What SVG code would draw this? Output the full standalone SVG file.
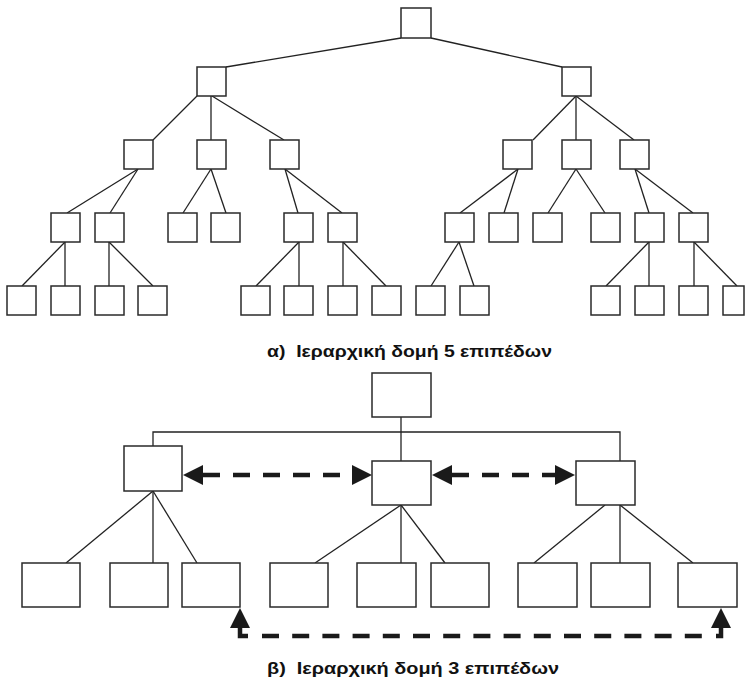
<svg xmlns="http://www.w3.org/2000/svg" width="745" height="681" viewBox="0 0 745 681">
<style>
.n rect{fill:#fff;stroke:#2a2a2a;stroke-width:1.5}
.c line,.c polyline{stroke:#222;stroke-width:1.3;fill:none}
.d line,.d polyline{stroke:#1a1a1a;stroke-width:4.5;fill:none}
.d .dash{stroke-dasharray:17 13}
.d polygon{fill:#1a1a1a}
.t{font-family:"Liberation Sans",Arial,sans-serif;font-weight:bold;font-size:17px;fill:#111;white-space:pre}
</style>
<rect width="745" height="681" fill="#fff"/>
<!-- Top tree connectors -->
<g id="connectors-a" class="c">
<line x1="401" y1="38" x2="226" y2="67"/>
<line x1="431" y1="38" x2="562" y2="67"/>
<line x1="197" y1="96" x2="153" y2="140"/>
<line x1="211" y1="96" x2="211" y2="140"/>
<line x1="212" y1="96" x2="284" y2="140"/>
<line x1="576" y1="96" x2="533" y2="140"/>
<line x1="576" y1="96" x2="576" y2="140"/>
<line x1="576" y1="96" x2="634" y2="140"/>
<line x1="138" y1="169" x2="67" y2="213"/>
<line x1="138" y1="169" x2="110" y2="213"/>
<line x1="211" y1="169" x2="183" y2="213"/>
<line x1="211" y1="169" x2="226" y2="213"/>
<line x1="285" y1="169" x2="298" y2="213"/>
<line x1="285" y1="169" x2="342" y2="213"/>
<line x1="518" y1="169" x2="460" y2="213"/>
<line x1="518" y1="169" x2="504" y2="213"/>
<line x1="576" y1="169" x2="548" y2="213"/>
<line x1="576" y1="169" x2="605" y2="213"/>
<line x1="635" y1="169" x2="649" y2="213"/>
<line x1="635" y1="169" x2="693" y2="213"/>
<line x1="65" y1="242" x2="22" y2="286"/>
<line x1="65" y1="242" x2="65" y2="286"/>
<line x1="109" y1="242" x2="109" y2="286"/>
<line x1="109" y1="242" x2="153" y2="286"/>
<line x1="299" y1="242" x2="256" y2="286"/>
<line x1="299" y1="242" x2="299" y2="286"/>
<line x1="343" y1="242" x2="343" y2="286"/>
<line x1="343" y1="242" x2="386" y2="286"/>
<line x1="459" y1="242" x2="431" y2="286"/>
<line x1="459" y1="242" x2="474" y2="286"/>
<line x1="649" y1="242" x2="606" y2="286"/>
<line x1="649" y1="242" x2="649" y2="286"/>
<line x1="694" y1="242" x2="694" y2="286"/>
<line x1="694" y1="242" x2="737" y2="286"/>
</g>
<!-- Top tree nodes -->
<g id="a-root" class="n"><rect x="401" y="8" width="30" height="30"/></g>
<g id="a-l1-1" class="n"><rect x="197" y="67" width="29" height="29"/></g>
<g id="a-l1-2" class="n"><rect x="562" y="67" width="29" height="29"/></g>
<g id="a-l2-1" class="n"><rect x="124" y="140" width="29" height="29"/></g>
<g id="a-l2-2" class="n"><rect x="197" y="140" width="29" height="29"/></g>
<g id="a-l2-3" class="n"><rect x="270" y="140" width="29" height="29"/></g>
<g id="a-l2-4" class="n"><rect x="503" y="140" width="29" height="29"/></g>
<g id="a-l2-5" class="n"><rect x="562" y="140" width="29" height="29"/></g>
<g id="a-l2-6" class="n"><rect x="620" y="140" width="29" height="29"/></g>
<g id="a-l3-1" class="n"><rect x="51" y="213" width="29" height="29"/></g>
<g id="a-l3-2" class="n"><rect x="95" y="213" width="29" height="29"/></g>
<g id="a-l3-3" class="n"><rect x="168" y="213" width="29" height="29"/></g>
<g id="a-l3-4" class="n"><rect x="211" y="213" width="29" height="29"/></g>
<g id="a-l3-5" class="n"><rect x="284" y="213" width="29" height="29"/></g>
<g id="a-l3-6" class="n"><rect x="328" y="213" width="29" height="29"/></g>
<g id="a-l3-7" class="n"><rect x="445" y="213" width="29" height="29"/></g>
<g id="a-l3-8" class="n"><rect x="489" y="213" width="29" height="29"/></g>
<g id="a-l3-9" class="n"><rect x="533" y="213" width="29" height="29"/></g>
<g id="a-l3-10" class="n"><rect x="591" y="213" width="29" height="29"/></g>
<g id="a-l3-11" class="n"><rect x="635" y="213" width="29" height="29"/></g>
<g id="a-l3-12" class="n"><rect x="679" y="213" width="29" height="29"/></g>
<g id="a-l4-1" class="n"><rect x="7" y="286" width="29" height="29"/></g>
<g id="a-l4-2" class="n"><rect x="51" y="286" width="29" height="29"/></g>
<g id="a-l4-3" class="n"><rect x="95" y="286" width="29" height="29"/></g>
<g id="a-l4-4" class="n"><rect x="138" y="286" width="29" height="29"/></g>
<g id="a-l4-5" class="n"><rect x="241" y="286" width="29" height="29"/></g>
<g id="a-l4-6" class="n"><rect x="284" y="286" width="29" height="29"/></g>
<g id="a-l4-7" class="n"><rect x="328" y="286" width="29" height="29"/></g>
<g id="a-l4-8" class="n"><rect x="372" y="286" width="29" height="29"/></g>
<g id="a-l4-9" class="n"><rect x="416" y="286" width="29" height="29"/></g>
<g id="a-l4-10" class="n"><rect x="460" y="286" width="29" height="29"/></g>
<g id="a-l4-11" class="n"><rect x="591" y="286" width="29" height="29"/></g>
<g id="a-l4-12" class="n"><rect x="635" y="286" width="29" height="29"/></g>
<g id="a-l4-13" class="n"><rect x="679" y="286" width="29" height="29"/></g>
<g id="a-l4-14" class="n"><rect x="723" y="286" width="21" height="29"/></g>
<text class="t" x="267" y="357" textLength="285" lengthAdjust="spacingAndGlyphs">α)  Ιεραρχική δομή 5 επιπέδων</text>
<!-- Bottom diagram connectors -->
<g id="connectors-b" class="c">
<line x1="401" y1="417" x2="401" y2="461"/>
<polyline points="153,446 153,432 620,432 620,461"/>
<line x1="153" y1="491" x2="66" y2="563"/>
<line x1="153" y1="491" x2="153" y2="563"/>
<line x1="153" y1="491" x2="197" y2="563"/>
<line x1="401" y1="505" x2="315" y2="563"/>
<line x1="401" y1="505" x2="401" y2="563"/>
<line x1="401" y1="505" x2="445" y2="563"/>
<line x1="605" y1="505" x2="534" y2="563"/>
<line x1="620" y1="505" x2="620" y2="563"/>
<line x1="620" y1="505" x2="693" y2="563"/>
</g>
<g id="dashed-links" class="d">
<line class="dash" x1="203" y1="475" x2="352" y2="475"/>
<polygon points="183,475 203,465 203,485"/>
<polygon points="372,475 352,465 352,485"/>
<line class="dash" x1="452" y1="475" x2="555" y2="475"/>
<polygon points="432,475 452,465 452,485"/>
<polygon points="575,475 555,465 555,485"/>
<polyline points="240,627 240,636 248,636"/>
<line x1="262" y1="636" x2="702" y2="636" style="stroke-dasharray:17 13.2"/>
<polyline points="716,636 721,636 721,627"/>
<polygon points="240,608 230,628 250,628"/>
<polygon points="721,608 711,628 731,628"/>
</g>
<!-- Bottom diagram nodes -->
<g id="b-root" class="n"><rect x="372" y="373" width="59" height="44"/></g>
<g id="b-l2-1" class="n"><rect x="124" y="446" width="58" height="45"/></g>
<g id="b-l2-2" class="n"><rect x="372" y="461" width="59" height="44"/></g>
<g id="b-l2-3" class="n"><rect x="576" y="461" width="59" height="44"/></g>
<g id="b-l3-1" class="n"><rect x="22" y="563" width="58" height="44"/></g>
<g id="b-l3-2" class="n"><rect x="110" y="563" width="58" height="44"/></g>
<g id="b-l3-3" class="n"><rect x="182" y="563" width="58" height="44"/></g>
<g id="b-l3-4" class="n"><rect x="270" y="563" width="58" height="44"/></g>
<g id="b-l3-5" class="n"><rect x="357" y="563" width="59" height="44"/></g>
<g id="b-l3-6" class="n"><rect x="431" y="563" width="58" height="44"/></g>
<g id="b-l3-7" class="n"><rect x="518" y="563" width="59" height="44"/></g>
<g id="b-l3-8" class="n"><rect x="591" y="563" width="59" height="44"/></g>
<g id="b-l3-9" class="n"><rect x="678" y="563" width="59" height="44"/></g>
<text class="t" x="267" y="674" textLength="292" lengthAdjust="spacingAndGlyphs">β)  Ιεραρχική δομή 3 επιπέδων</text>
</svg>
